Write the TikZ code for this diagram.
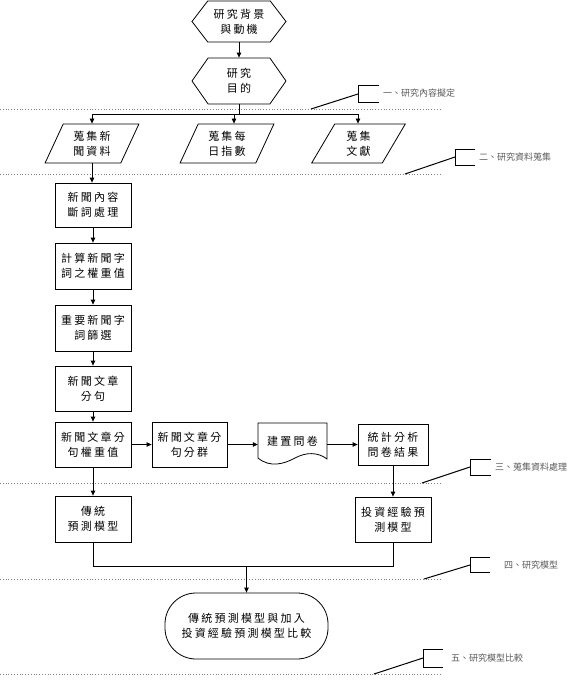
\documentclass[tikz,border=0pt]{standalone}
\usepackage{fontspec}
\newfontfamily\cjk[LetterSpace=20]{Noto Sans CJK TC}
\newfontfamily\cjksmall{Noto Sans CJK TC}
\usetikzlibrary{arrows.meta,shapes.geometric,shapes.symbols}
\begin{document}
\begin{tikzpicture}[x=1pt,y=-1pt,
  txt/.style={font=\cjk\fontsize{11}{15}\selectfont, align=center, inner sep=0pt},
  box/.style={txt, draw, line width=0.8pt, rectangle},
  hexa/.style={txt, draw, line width=0.8pt, signal, signal to=west and east, minimum width=94pt},
  para/.style={txt, draw, line width=0.8pt, trapezium, trapezium left angle=65, trapezium right angle=115, trapezium stretches=true, minimum width=94pt, minimum height=39pt},
  arr/.style={line width=0.8pt, -{Triangle[length=5pt,width=4.5pt]}},
  ln/.style={line width=0.8pt},
  sep/.style={gray, dotted, line width=0.8pt},
  brk/.style={line width=1pt},
  lab/.style={font=\cjksmall\fontsize{9}{10}\selectfont, text=black!65, anchor=west, inner sep=0pt}
]
\useasboundingbox (0,0) rectangle (568,680);

% separators
\foreach \yy in {109,174,483,579,674} \draw[sep] (0,\yy) -- (440,\yy);

% section labels
\draw[brk] (311,109) -- (358,94);
\draw[brk] (379,85) -- (358,85) -- (358,102) -- (379,102);
\node[lab] (l1) at (383,93.5) {一、研究內容擬定};
\draw[brk] (405,174) -- (455,157);
\draw[brk] (475,149) -- (455,149) -- (455,165) -- (475,165);
\node[lab] (l2) at (479,157.5) {二、研究資料蒐集};
\draw[brk] (422,483) -- (470,467);
\draw[brk] (491,459) -- (470,459) -- (470,475) -- (491,475);
\node[lab] (l3) at (495,467) {三、蒐集資料處理};
\draw[brk] (424,579) -- (470,565);
\draw[brk] (490,557) -- (470,557) -- (470,572) -- (490,572);
\node[lab] (l4) at (504,565) {四、研究模型};
\draw[brk] (374,674) -- (423,658);
\draw[brk] (443,649) -- (423,649) -- (423,667) -- (443,667);
\node[lab] (l5) at (451,658.5) {五、研究模型比較};

% nodes
\node[hexa, minimum height=41pt, signal pointer angle=105] (h1) at (239,21.5) {研究背景\\與動機};
\node[hexa, minimum height=46pt, signal pointer angle=110] (h2) at (239,81) {研究\\目的};
\node[para] (p1) at (92,143.5) {蒐集新\\聞資料};
\node[para] (p2) at (227,143.5) {蒐集每\\日指數};
\node[para] (p3) at (358.5,143.5) {蒐集\\文獻};
\node[box, minimum width=76pt, minimum height=44pt] (b1) at (93,205) {新聞內容\\斷詞處理};
\node[box, minimum width=76pt, minimum height=46pt] (b2) at (93,266) {計算新聞字\\詞之權重值};
\node[box, minimum width=76pt, minimum height=46pt] (b3) at (93,328) {重要新聞字\\詞篩選};
\node[box, minimum width=76pt, minimum height=45pt] (b4) at (93,388.5) {新聞文章\\分句};
\node[box, minimum width=76pt, minimum height=45pt] (b5) at (93,444.5) {新聞文章分\\句權重值};
\node[box, minimum width=75pt, minimum height=45pt] (b6) at (189.5,444.5) {新聞文章分\\句分群};
\node[txt, minimum width=69pt, minimum height=36pt] (doc) at (292.5,441) {建置問卷};
\draw[ln] (258,458) -- (258,423) -- (327,423) -- (327,459)
  .. controls (318,452) and (306,452) .. (295,458)
  .. controls (284,464) and (270,468) .. (258,458) -- cycle;
\node[box, minimum width=70pt, minimum height=41pt] (b7) at (393,444.5) {統計分析\\問卷結果};
\node[box, minimum width=76pt, minimum height=46pt] (b8) at (93,519) {傳統\\預測模型};
\node[box, minimum width=76pt, minimum height=45pt] (b9) at (393,519.5) {投資經驗預\\測模型};
\node[txt, draw, line width=0.8pt, rounded corners=31pt, minimum width=163pt, minimum height=66pt] (term) at (246.5,626) {傳統預測模型與加入\\投資經驗預測模型比較};

% connectors
\draw[arr] (h1.south) -- (h2.north);
\coordinate (bus) at (238,114);
\coordinate (j1) at (92,114);
\coordinate (j2) at (234,114);
\coordinate (j3) at (358,114);
\draw[ln] (h2.south) -- (h2.south |- bus);
\draw[ln] (j1) -- (j3);
\draw[arr] (j1) -- (j1 |- p1.north);
\draw[arr] (j2) -- (j2 |- p2.north);
\draw[arr] (j3) -- (j3 |- p3.north);
\draw[arr] (p1.south) -- (p1.south |- b1.north);
\draw[arr] (b1.south) -- (b2.north);
\draw[arr] (b2.south) -- (b3.north);
\draw[arr] (b3.south) -- (b4.north);
\draw[arr] (b4.south) -- (b5.north);
\draw[arr] (b5.east) -- (b6.west);
\draw[arr] (b6.east) -- (b6.east -| doc.west);
\draw[arr] (doc.east |- b7.west) -- (b7.west);
\draw[arr] (b5.south) -- (b8.north);
\draw[arr] (b7.south) -- (b9.north);
\coordinate (m) at (246.5,566);
\draw[ln] (b8.south) -- (b8.south |- m) -- (b9.south |- m) -- (b9.south);
\draw[arr] (m) -- (term.north);
\end{tikzpicture}
\end{document}
